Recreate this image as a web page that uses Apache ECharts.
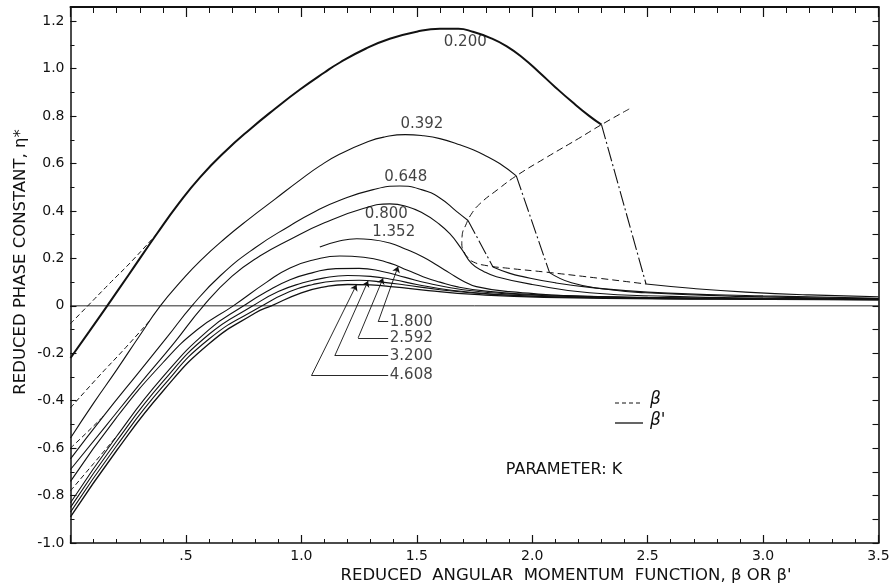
<!DOCTYPE html>
<html>
<head>
<meta charset="utf-8">
<script src="https://cdn.jsdelivr.net/npm/echarts@6/dist/echarts.min.js"></script>
<style>
  html, body { margin: 0; padding: 0; background: #ffffff; }
  #chart { width: 889px; height: 588px; }
</style>
</head>
<body>
<div id="chart"></div>
<script>
// ---------------------------------------------------------------
// Reduced phase constant eta* against reduced angular momentum
// function (beta dashed, beta' solid) for several values of K.
// ---------------------------------------------------------------

// Tick labels
const xTickLabels = ['', '.5', '1.0', '1.5', '2.0', '2.5', '3.0', '3.5'];
const yTickLabels = ['-1.0', '-0.8', '-0.6', '-0.4', '-0.2', '0', '0.2', '0.4', '0.6', '0.8', '1.0', '1.2'];

// Parameter K values shown on the curves
const kLabelsUpper = ['0.200', '0.392', '0.648', '0.800', '1.352'];
const kLabelsLower = ['1.800', '2.592', '3.200', '4.608'];

// K = 0.200
const eta0200Prime = [[0, -0.22], [0.08, -0.11], [0.159, 0], [0.25, 0.128], [0.375, 0.305], [0.47, 0.433],
  [0.562, 0.543], [0.67, 0.651], [0.778, 0.745], [0.886, 0.831], [0.994, 0.912], [1.1, 0.984], [1.167, 1.026],
  [1.28, 1.085], [1.383, 1.126], [1.5, 1.156], [1.6, 1.168], [1.68, 1.168], [1.742, 1.156], [1.82, 1.129],
  [1.89, 1.094], [1.96, 1.045], [2.03, 0.985], [2.1, 0.922], [2.175, 0.858], [2.248, 0.80], [2.30, 0.764]];
const eta0200Beta = [[0, -0.075], [0.075, 0], [0.17, 0.095], [0.267, 0.19], [0.375, 0.305]];
const eta0200Jump = [[2.30, 0.764], [2.493, 0.092]];
const eta0200Tail = [[2.493, 0.092], [2.7, 0.073], [2.925, 0.058], [3.2, 0.046], [3.5, 0.038]];

// K = 0.392
const eta0392Prime = [[0, -0.557], [0.1, -0.41], [0.2, -0.27], [0.3, -0.125], [0.389, 0], [0.48, 0.105],
  [0.562, 0.19], [0.67, 0.285], [0.778, 0.37], [0.886, 0.45], [0.994, 0.53], [1.08, 0.59], [1.167, 0.64],
  [1.29, 0.693], [1.36, 0.712], [1.45, 0.722], [1.53, 0.717], [1.6, 0.705], [1.69, 0.678], [1.744, 0.658],
  [1.80, 0.632], [1.859, 0.6], [1.931, 0.548]];
const eta0392Beta = [[0, -0.43], [0.12, -0.30], [0.24, -0.175], [0.35, -0.055]];
const eta0392Jump = [[1.931, 0.548], [2.075, 0.14]];
const eta0392Tail = [[2.075, 0.14], [2.17, 0.097], [2.32, 0.07], [2.49, 0.055], [2.9, 0.04], [3.5, 0.031]];

// K = 0.648
const eta0648Prime = [[0, -0.645], [0.143, -0.465], [0.3, -0.275], [0.42, -0.13], [0.526, 0], [0.65, 0.128],
  [0.8, 0.245], [0.951, 0.338], [1.06, 0.398], [1.167, 0.445], [1.311, 0.49], [1.427, 0.505], [1.52, 0.49],
  [1.6, 0.455], [1.672, 0.398], [1.722, 0.36]];
const eta0648Beta = [[0, -0.60], [0.07, -0.535], [0.143, -0.465]];
const eta0648Jump = [[1.722, 0.36], [1.83, 0.164]];
const eta0648Tail = [[1.83, 0.164], [1.9, 0.138], [1.96, 0.123], [2.1, 0.097], [2.25, 0.078], [2.5, 0.058],
  [3.0, 0.042], [3.5, 0.032]];

// K = 0.800
const eta0800Prime = [[0, -0.69], [0.15, -0.51], [0.3, -0.33], [0.45, -0.155], [0.576, 0], [0.7, 0.125],
  [0.82, 0.21], [0.951, 0.28], [1.1, 0.35], [1.268, 0.41], [1.383, 0.43], [1.46, 0.418], [1.527, 0.39],
  [1.59, 0.35], [1.643, 0.304], [1.693, 0.241], [1.737, 0.179], [1.79, 0.145], [1.845, 0.123], [2.0, 0.09],
  [2.248, 0.055], [2.6, 0.04], [3.0, 0.033], [3.5, 0.03]];

// K = 1.352 (drawn from beta' = 1.08 onward)
const eta1352Prime = [[1.08, 0.248], [1.16, 0.272], [1.24, 0.283], [1.30, 0.28], [1.383, 0.265], [1.45, 0.24],
  [1.527, 0.206], [1.59, 0.17], [1.643, 0.138], [1.70, 0.105], [1.758, 0.081], [1.9, 0.06], [2.25, 0.04],
  [2.8, 0.031], [3.5, 0.028]];

// Lower family
const eta1800Prime = [[0, -0.74], [0.2, -0.47], [0.4, -0.24], [0.55, -0.1], [0.705, 0], [0.85, 0.1],
  [0.951, 0.16], [1.06, 0.195], [1.167, 0.21], [1.27, 0.205], [1.383, 0.18], [1.46, 0.15], [1.527, 0.123],
  [1.6, 0.1], [1.672, 0.081], [1.8, 0.062], [2.0, 0.048], [2.5, 0.036], [3.0, 0.03], [3.5, 0.028]];
const etaMidPrime = [[0, -0.83], [0.2, -0.55], [0.4, -0.3], [0.6, -0.1], [0.75, 0], [0.85, 0.06],
  [0.951, 0.11], [1.05, 0.14], [1.15, 0.157], [1.25, 0.158], [1.35, 0.145], [1.45, 0.12], [1.55, 0.095],
  [1.7, 0.068], [1.9, 0.05], [2.3, 0.037], [3.0, 0.03], [3.5, 0.027]];
const eta2592Prime = [[0, -0.85], [0.2, -0.57], [0.4, -0.32], [0.6, -0.12], [0.79, 0], [0.9, 0.06],
  [1.0, 0.095], [1.1, 0.118], [1.2, 0.128], [1.3, 0.124], [1.4, 0.11], [1.5, 0.09], [1.65, 0.066],
  [1.85, 0.048], [2.2, 0.036], [3.0, 0.029], [3.5, 0.026]];
const eta3200Prime = [[0, -0.87], [0.2, -0.59], [0.4, -0.34], [0.6, -0.14], [0.83, 0], [0.95, 0.06],
  [1.05, 0.09], [1.15, 0.105], [1.25, 0.108], [1.35, 0.1], [1.45, 0.088], [1.6, 0.068], [1.8, 0.05],
  [2.1, 0.037], [2.8, 0.029], [3.5, 0.026]];
const eta4608Prime = [[0, -0.89], [0.2, -0.61], [0.4, -0.36], [0.6, -0.16], [0.8, -0.03], [0.87, 0],
  [1.0, 0.055], [1.1, 0.08], [1.2, 0.09], [1.3, 0.088], [1.4, 0.08], [1.55, 0.064], [1.75, 0.048],
  [2.05, 0.036], [2.8, 0.028], [3.5, 0.025]];
const etaLowerBeta = [[0, -0.78], [0.1, -0.665], [0.2, -0.55]];

// Locus of the branch points (beta)
const branchLocus = [[2.42, 0.83], [2.30, 0.764], [2.2, 0.705], [2.06, 0.625], [1.931, 0.548], [1.85, 0.49],
  [1.773, 0.43], [1.735, 0.385], [1.712, 0.34], [1.697, 0.30], [1.695, 0.262], [1.705, 0.228], [1.72, 0.205],
  [1.745, 0.185], [1.8, 0.17], [1.9, 0.158], [2.06, 0.142], [2.3, 0.115], [2.493, 0.092]];

// Axis ranges
const X_RANGE = [0, 3.5];
const Y_RANGE = [-1.0, 1.26];

// ---------------------------------------------------------------
const INK = '#111111';
const FONT = '"DejaVu Sans", sans-serif';

function interpY(curve, x) {
  for (let i = 1; i < curve.length; i++) {
    const a = curve[i - 1], b = curve[i];
    if (x >= a[0] && x <= b[0]) return a[1] + (b[1] - a[1]) * (x - a[0]) / (b[0] - a[0]);
  }
  return curve[curve.length - 1][1];
}

function solid(data, width) {
  return { type: 'line', data: data, symbol: 'none', smooth: 0.5, silent: true, z: 3,
    lineStyle: { color: INK, width: width || 1.1 } };
}
function dashed(data, dash) {
  return { type: 'line', data: data, symbol: 'none', smooth: 0.5, silent: true, z: 3,
    lineStyle: { color: INK, width: 1.0, type: dash || [5, 3] } };
}
function jump(data) {
  return { type: 'line', data: data, symbol: 'none', smooth: false, silent: true, z: 3,
    lineStyle: { color: INK, width: 1.1, type: [15, 3, 2, 3] } };
}

// Leader lines from the lower labels to their curves
const leaderLayout = [
  { label: kLabelsLower[0], curve: eta1800Prime, tipX: 1.419, cornerX: 1.333, y: -0.067 },
  { label: kLabelsLower[1], curve: eta2592Prime, tipX: 1.354, cornerX: 1.246, y: -0.135 },
  { label: kLabelsLower[2], curve: eta3200Prime, tipX: 1.289, cornerX: 1.145, y: -0.210 },
  { label: kLabelsLower[3], curve: eta4608Prime, tipX: 1.239, cornerX: 1.044, y: -0.294 }
];
const LEADER_END_X = 1.376;
const LABEL_X = 1.383;

const upperLabelAnchors = [[1.71, 1.11], [1.522, 0.767], [1.452, 0.541], [1.368, 0.388], [1.40, 0.31]];

const labelText = { show: true, formatter: '{b}', color: INK, fontSize: 15, fontFamily: FONT,
  textBorderWidth: 0, textShadowBlur: 0 };

const series = [
  // zero line
  { type: 'line', data: [[X_RANGE[0], 0], [X_RANGE[1], 0]], symbol: 'none', silent: true, z: 2,
    lineStyle: { color: INK, width: 0.9 } },
  solid(eta0200Prime, 2.0), dashed(eta0200Beta), jump(eta0200Jump), solid(eta0200Tail),
  solid(eta0392Prime), dashed(eta0392Beta), jump(eta0392Jump), solid(eta0392Tail),
  solid(eta0648Prime), dashed(eta0648Beta), jump(eta0648Jump), solid(eta0648Tail),
  solid(eta0800Prime),
  solid(eta1352Prime),
  solid(eta1800Prime), solid(etaMidPrime), solid(eta2592Prime), solid(eta3200Prime), solid(eta4608Prime, 1.3),
  dashed(etaLowerBeta),
  dashed(branchLocus, [7, 4]),
  // leader horizontals
  { type: 'lines', coordinateSystem: 'cartesian2d', silent: true, z: 4, symbol: 'none',
    lineStyle: { color: INK, width: 0.9, opacity: 1, curveness: 0 },
    data: leaderLayout.map(l => ({ coords: [[l.cornerX, l.y], [LEADER_END_X, l.y]] })) },
  // leader arrows
  { type: 'lines', coordinateSystem: 'cartesian2d', silent: true, z: 4,
    symbol: ['none', 'arrow'], symbolSize: 6,
    lineStyle: { color: INK, width: 0.9, opacity: 1, curveness: 0 },
    data: leaderLayout.map(l => ({ coords: [[l.cornerX, l.y], [l.tipX, interpY(l.curve, l.tipX)]] })) },
  // upper curve labels
  { type: 'scatter', symbolSize: 0, silent: true, z: 5,
    data: kLabelsUpper.map((t, i) => ({ name: t, value: upperLabelAnchors[i] })),
    label: Object.assign({ position: 'inside' }, labelText) },
  // lower curve labels
  { type: 'scatter', symbolSize: 0, silent: true, z: 5,
    data: leaderLayout.map(l => ({ name: l.label, value: [LABEL_X, l.y] })),
    label: Object.assign({ position: 'right', distance: 0 }, labelText) }
];

function tickAxis(base, extra) { return Object.assign({}, base, extra); }

const xBase = { type: 'value', min: X_RANGE[0], max: X_RANGE[1], splitLine: { show: false },
  axisLine: { show: false, onZero: false }, axisLabel: { show: false } };
const yBase = { type: 'value', min: Y_RANGE[0], max: Y_RANGE[1], splitLine: { show: false },
  axisLine: { show: false, onZero: false }, axisLabel: { show: false } };

const option = {
  animation: false,
  backgroundColor: '#ffffff',
  textStyle: { fontFamily: FONT, color: INK },
  grid: { left: 70.5, right: 10.5, top: 7, bottom: 45, containLabel: false, outerBoundsMode: 'none' },
  xAxis: [
    tickAxis(xBase, { position: 'bottom', interval: 0.5,
      axisLine: { show: true, onZero: false, lineStyle: { color: INK, width: 1.5 } },
      axisTick: { show: true, inside: true, length: 8, lineStyle: { color: INK, width: 1.2 } },
      axisLabel: { show: true, margin: 6, color: INK, fontSize: 14, fontFamily: FONT,
        formatter: v => xTickLabels[Math.round(v / 0.5)] || '' } }),
    tickAxis(xBase, { position: 'bottom', interval: 0.1,
      axisTick: { show: true, inside: true, length: 4, lineStyle: { color: INK, width: 1 } } }),
    tickAxis(xBase, { position: 'top', interval: 0.5,
      axisLine: { show: true, onZero: false, lineStyle: { color: INK, width: 2 } },
      axisTick: { show: true, inside: true, length: 10, lineStyle: { color: INK, width: 1.2 } } }),
    tickAxis(xBase, { position: 'top', interval: 0.1,
      axisTick: { show: true, inside: true, length: 6, lineStyle: { color: INK, width: 1 } } })
  ],
  yAxis: [
    tickAxis(yBase, { position: 'left', interval: 0.2,
      axisLine: { show: true, onZero: false, lineStyle: { color: INK, width: 1.5 } },
      axisTick: { show: true, inside: true, length: 6, lineStyle: { color: INK, width: 1.1 } },
      axisLabel: { show: true, margin: 6, color: INK, fontSize: 14, fontFamily: FONT, showMaxLabel: false,
        formatter: v => {
          const i = Math.round((v - Y_RANGE[0]) / 0.2);
          return Math.abs(v - (Y_RANGE[0] + i * 0.2)) < 1e-6 ? (yTickLabels[i] || '') : '';
        } } }),
    tickAxis(yBase, { position: 'left', interval: 0.1,
      axisTick: { show: true, inside: true, length: 4, lineStyle: { color: INK, width: 1 } } }),
    tickAxis(yBase, { position: 'right', interval: 0.1,
      axisLine: { show: true, onZero: false, lineStyle: { color: INK, width: 1.6 } },
      axisTick: { show: true, inside: true, length: 6, lineStyle: { color: INK, width: 1.1 } } })
  ],
  series: series,
  graphic: [
    { type: 'text', x: 21, y: 262, rotation: Math.PI / 2, silent: true,
      style: { text: 'REDUCED PHASE CONSTANT, η*', font: '16.5px ' + FONT, fill: INK,
        align: 'center', verticalAlign: 'middle' } },
    { type: 'text', x: 566, y: 576, silent: true,
      style: { text: "REDUCED  ANGULAR  MOMENTUM  FUNCTION, β OR β'", font: '16.5px ' + FONT, fill: INK,
        align: 'center', verticalAlign: 'middle' } },
    { type: 'text', x: 564, y: 470, silent: true,
      style: { text: 'PARAMETER: K', font: '16px ' + FONT, fill: INK, align: 'center', verticalAlign: 'middle' } },
    // legend
    { type: 'line', silent: true, shape: { x1: 615, y1: 403, x2: 643, y2: 403 },
      style: { stroke: INK, lineWidth: 1, lineDash: [4, 3] } },
    { type: 'text', x: 650, y: 400, silent: true,
      style: { text: 'β', font: 'italic 17px ' + FONT, fill: INK, align: 'left', verticalAlign: 'middle' } },
    { type: 'line', silent: true, shape: { x1: 615, y1: 423, x2: 643, y2: 423 },
      style: { stroke: INK, lineWidth: 1.3 } },
    { type: 'text', x: 650, y: 421, silent: true,
      style: { text: "β'", font: 'italic 17px ' + FONT, fill: INK, align: 'left', verticalAlign: 'middle' } }
  ]
};

series.forEach(s => { s.xAxisIndex = 0; s.yAxisIndex = 0; });

const chart = echarts.init(document.getElementById('chart'), null, { renderer: 'canvas' });
chart.setOption(option);
</script>
</body>
</html>
